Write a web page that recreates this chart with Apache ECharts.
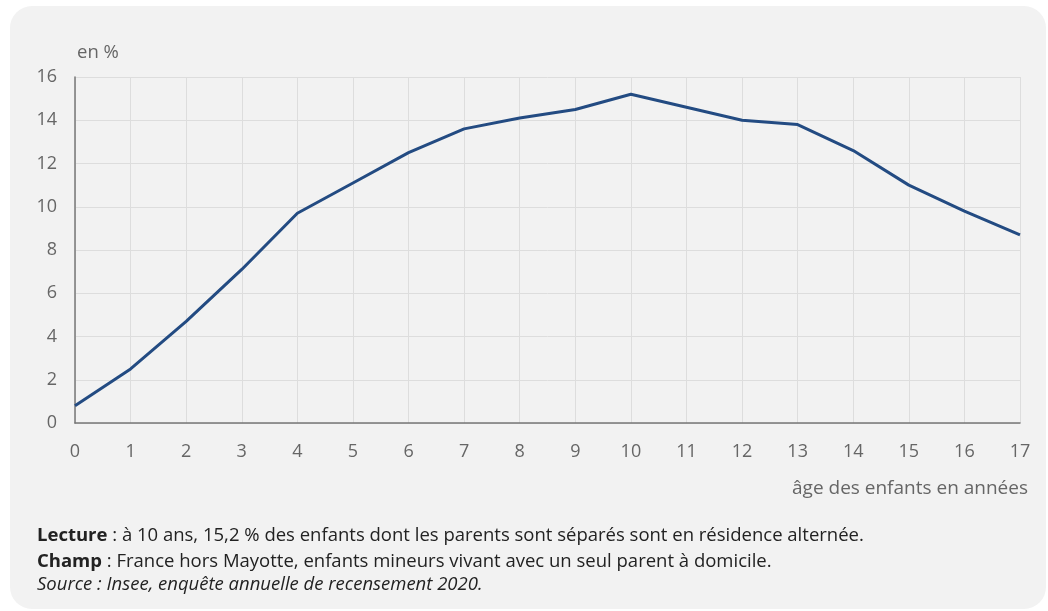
<!DOCTYPE html>
<html>
<head>
<meta charset="utf-8">
<script src="https://cdn.jsdelivr.net/npm/echarts@6/dist/echarts.min.js"></script>
<style>
  html, body { margin: 0; padding: 0; background: #fff; }
  #card {
    position: absolute; left: 10px; top: 6px; width: 1036px; height: 603px;
    background: #f2f2f2; border-radius: 22px;
  }
  #chart { position: absolute; left: 0; top: 0; width: 1048px; height: 611px; }
</style>
</head>
<body>
<div id="card"></div>
<div id="chart"></div>
<script>
// âge des enfants (années)
const ages = ['0','1','2','3','4','5','6','7','8','9','10','11','12','13','14','15','16','17']
// part des enfants en résidence alternée, en %
const alternee = [0.8, 2.5, 4.7, 7.1, 9.7, 11.1, 12.5, 13.6, 14.1, 14.5, 15.2, 14.6, 14.0, 13.8, 12.6, 11.0, 9.8, 8.7]

const font = '"Open Sans", "Noto Sans", sans-serif'
const labelColor = '#666'
const noteColor = '#222'

const chart = echarts.init(document.getElementById('chart'))

chart.setOption({
  backgroundColor: 'transparent',
  animation: false,
  textStyle: { fontFamily: font },
  grid: {
    left: 75,
    right: 28,
    top: 77,
    bottom: 188
  },
  xAxis: {
    type: 'category',
    data: ages,
    boundaryGap: false,
    axisLine: { lineStyle: { color: '#777', width: 1.5 } },
    axisTick: { show: false },
    axisLabel: { color: labelColor, fontSize: 18, margin: 20, fontFamily: font },
    splitLine: { show: true, lineStyle: { color: '#dddddd', width: 1 } }
  },
  yAxis: {
    type: 'value',
    min: 0,
    max: 16,
    interval: 2,
    axisLine: { show: true, lineStyle: { color: '#777', width: 1.5 } },
    axisTick: { show: false },
    axisLabel: { color: labelColor, fontSize: 18, margin: 18, fontFamily: font },
    splitLine: { lineStyle: { color: '#dddddd', width: 1 } }
  },
  series: [{
    name: 'résidence alternée',
    type: 'line',
    data: alternee,
    symbol: 'none',
    lineStyle: { color: '#234b82', width: 3 }
  }],
  graphic: [
    {
      type: 'text', left: 77, top: 43,
      style: { text: 'en %', fill: labelColor, font: '18.5px ' + font }
    },
    {
      type: 'text', right: 20, top: 479,
      style: { text: 'âge des enfants en années', fill: labelColor, font: '19px ' + font }
    },
    {
      type: 'text', left: 37, top: 526,
      style: {
        text: '{b|Lecture} : à 10 ans, 15,2 % des enfants dont les parents sont séparés sont en résidence alternée.',
        fill: noteColor, font: '18.5px ' + font,
        rich: { b: { fontWeight: 'bold', fill: noteColor, fontSize: 18.5, fontFamily: font } }
      }
    },
    {
      type: 'text', left: 37, top: 552,
      style: {
        text: '{b|Champ} : France hors Mayotte, enfants mineurs vivant avec un seul parent à domicile.',
        fill: noteColor, font: '18.5px ' + font,
        rich: { b: { fontWeight: 'bold', fill: noteColor, fontSize: 18.5, fontFamily: font } }
      }
    },
    {
      type: 'text', left: 37, top: 575,
      style: {
        text: 'Source : Insee, enquête annuelle de recensement 2020.',
        fill: noteColor, font: 'italic 18.5px ' + font
      }
    }
  ]
})
</script>
</body>
</html>
